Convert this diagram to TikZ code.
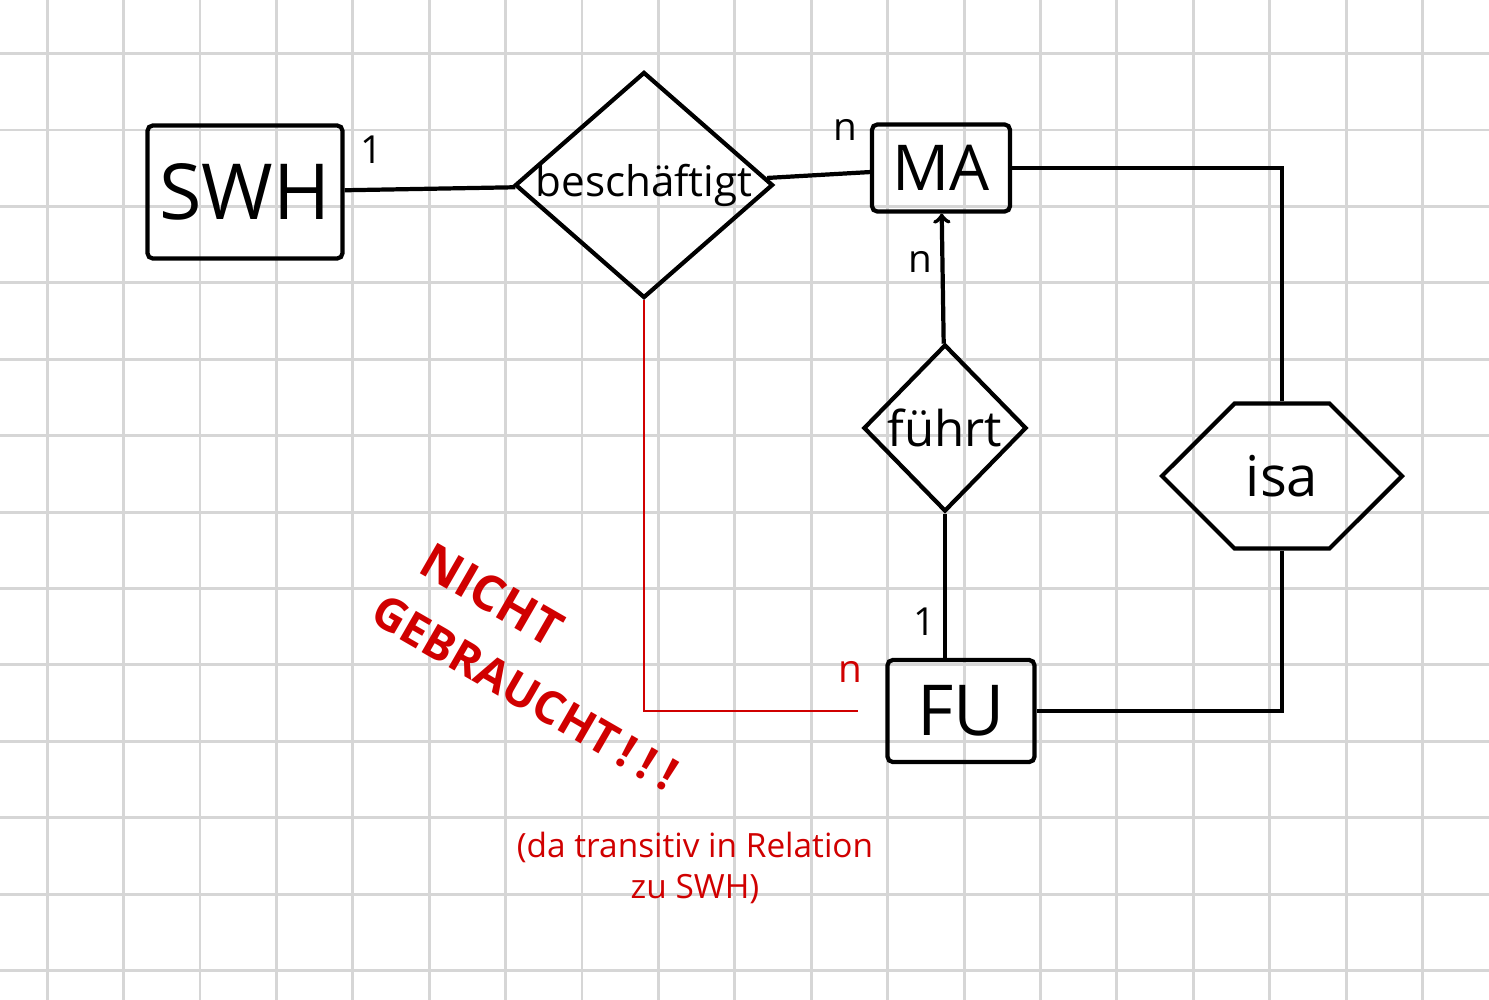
\documentclass[tikz,border=0pt]{standalone}
\usepackage{fontspec}
\setmainfont{Open Sans}
\usetikzlibrary{shapes.geometric,shapes.symbols}
\definecolor{gridgray}{RGB}{214,214,214}
\definecolor{penred}{RGB}{208,0,0}

\begin{document}
\begin{tikzpicture}[
    gridline/.style={gridgray, line width=1.7pt},
    pen/.style={line width=2.4pt},
    entity/.style={draw, pen, rounded corners=3pt, inner sep=0pt},
    rel/.style={draw, diamond, pen, inner sep=0pt},
    card/.style={font=\fontsize{22}{22}\selectfont},
    redpen/.style={penred, line width=1.6pt},
    note/.style={penred, font=\bfseries\fontsize{26}{26}\selectfont, rotate=-30}
  ]
            \useasboundingbox (0, 0) rectangle (29.78, -20);
            \foreach \i in {0,...,18} \draw[gridline] ({0.944+1.528*\i}, 0) -- ++(0, -20);
            \foreach \j in {0,...,12} \draw[gridline] (0, {-1.072-1.528*\j}) -- ++(29.78, 0);
            \node[entity, minimum width=3.9cm, minimum height=2.66cm, font=\fontsize{44}{44}\selectfont](1) at (4.9, -3.84) {SWH};
            \node[rel, minimum width=5.16cm, minimum height=4.52cm, label={[font=\fontsize{24}{24}\selectfont]center:beschäftigt}](2) at (12.88, -3.7) {};
            \node[entity, minimum width=2.76cm, minimum height=1.74cm, font=\fontsize{36}{36}\selectfont](3) at (18.82, -3.36) {MA};
            \path[pen] (1) edge (2) (2) edge (3);
            \node[rel, minimum width=3.26cm, minimum height=3.34cm, label={[font=\fontsize{28}{28}\selectfont]center:führt}](4) at (18.9, -8.56) {};
            \node[entity, minimum width=2.94cm, minimum height=2.04cm, font=\fontsize{40}{40}\selectfont](5) at (19.22, -14.22) {FU};
            \path[pen, ->] (4) edge (3);
            \path[pen] (4.south) edge (4.south |- 5.north);
            \node[draw, pen, signal, signal to=west and east, minimum width=4.8cm, minimum height=2.9cm, font=\fontsize{32}{32}\selectfont](6) at (25.64, -9.52) {isa};
            \draw[pen] (3) -| (6);
            \draw[pen] (6) |- (5);
            \draw[redpen, shorten >=0.55cm] (2) |- (5);
            \node[card](7) at (7.44, -3.0) {1};
            \node[card](8) at (16.9, -2.6) {n};
            \node[card](9) at (18.4, -5.24) {n};
            \node[card](10) at (18.5, -12.44) {1};
            \node[card, penred](11) at (17.0, -13.44) {n};
            \node[note, font=\bfseries\fontsize{28}{28}\selectfont](12) at (9.84, -11.9) {NICHT};
            \node[note](13) at (10.5, -13.85) {GEBRAUCHT\kern4pt!\kern6pt!\kern6pt!};
            \node[penred, align=center, font=\fontsize{19}{23}\selectfont](14) at (13.9, -17.36) {(da transitiv in Relation\\zu SWH)};
\end{tikzpicture}
\end{document}
